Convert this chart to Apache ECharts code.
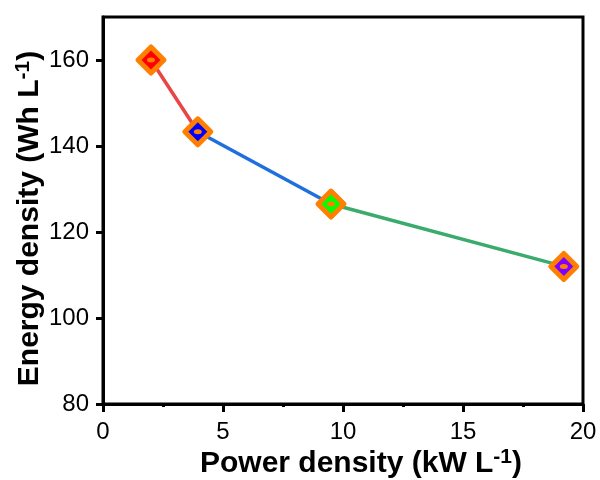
<!DOCTYPE html>
<html>
<head>
<meta charset="utf-8">
<script src="https://cdn.jsdelivr.net/npm/echarts@6/dist/echarts.min.js"></script>
<style>html,body{margin:0;padding:0;background:#fff}#c{width:600px;height:480px}</style>
</head>
<body>
<div id="c"></div>
<script>
const powerDensity = [2.0, 3.95, 9.5, 19.2];
const energyDensity = [160, 143.3, 126.5, 112];
const xTicks = [0, 5, 10, 15, 20];
const yTicks = [80, 100, 120, 140, 160];

const segColors = ['#e84545', '#1f6fdc', '#3aab6c'];
const fillColors = ['#ff0000', '#0000ff', '#00ff00', '#8000ff'];
const ORANGE = '#ff8000';

const chart = echarts.init(document.getElementById('c'), null, {renderer: 'canvas'});
const FONT = '"Liberation Sans", Arial, sans-serif';

const series = [];
for (let i = 0; i < powerDensity.length - 1; i++) {
  series.push({
    type: 'line',
    data: [[powerDensity[i], energyDensity[i]], [powerDensity[i + 1], energyDensity[i + 1]]],
    symbol: 'none',
    lineStyle: {color: segColors[i], width: 3.5},
    z: 2,
    silent: true
  });
}
series.push({
  type: 'scatter',
  symbol: 'diamond',
  symbolSize: 26,
  data: powerDensity.map((x, i) => ({
    value: [x, energyDensity[i]],
    itemStyle: {color: fillColors[i], borderColor: ORANGE, borderWidth: 5, borderJoin: 'round', opacity: 1}
  })),
  z: 5
});
series.push({
  type: 'scatter',
  symbol: 'circle',
  symbolSize: [8, 5],
  data: powerDensity.map((x, i) => [x, energyDensity[i]]),
  itemStyle: {color: ORANGE, opacity: 1},
  z: 6
});

const titleStyle = {fontFamily: FONT, fontWeight: 'bold', fontSize: 30, color: '#000',
  rich: {sup: {fontFamily: FONT, fontWeight: 'bold', fontSize: 21, color: '#000', verticalAlign: 'top', padding: [0, 0, 13, 0]}}};

chart.setOption({
  animation: false,
  backgroundColor: '#fff',
  grid: {left: 103, right: 17, top: 17, bottom: 76, outerBoundsMode: 'none', containLabel: false,
    show: true, borderColor: '#000', borderWidth: 3, backgroundColor: 'transparent'},
  xAxis: {
    type: 'value', min: 0, max: 20, interval: 5,
    name: 'Power density (kW L{sup|-1})',
    nameLocation: 'middle', nameGap: 43, nameMoveOverlap: false,
    nameTextStyle: Object.assign({}, titleStyle, {padding: [0, 0, 0, 36]}),
    axisLine: {show: true, onZero: false, lineStyle: {color: '#000', width: 3}},
    axisTick: {show: true, inside: false, length: 8, lineStyle: {color: '#000', width: 3}, customValues: xTicks},
    minorTick: {show: true, splitNumber: 2, length: 3, lineStyle: {color: '#000', width: 3}},
    axisLabel: {fontFamily: FONT, fontSize: 24, color: '#000', margin: 16, customValues: xTicks},
    splitLine: {show: false}
  },
  yAxis: {
    type: 'value', min: 80, max: 170, interval: 20,
    name: 'Energy density (Wh L{sup|-1})',
    nameLocation: 'middle', nameGap: 56, nameRotate: 90, nameMoveOverlap: false,
    nameTextStyle: Object.assign({}, titleStyle, {padding: [0, 0, 0, -16]}),
    axisLine: {show: true, onZero: false, lineStyle: {color: '#000', width: 3}},
    axisTick: {show: true, inside: false, length: 7, lineStyle: {color: '#000', width: 3}, customValues: yTicks},
    axisLabel: {fontFamily: FONT, fontSize: 24, color: '#000', margin: 14, customValues: yTicks},
    splitLine: {show: false}
  },
  series: series
});
</script>
</body>
</html>
